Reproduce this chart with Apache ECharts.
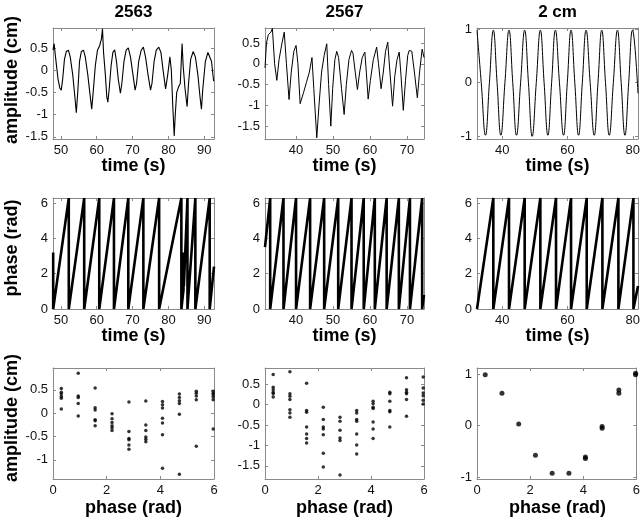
<!DOCTYPE html>
<html><head><meta charset="utf-8">
<script src="https://cdn.jsdelivr.net/npm/echarts@6/dist/echarts.min.js"></script>
<style>html,body{margin:0;padding:0;background:#fff}#c{width:643px;height:524px}</style>
</head><body><div id="c"></div><script>
// ---------- titles / labels ----------
const colTitles = ['2563', '2567', '2 cm'];
const rowYLabels = ['amplitude (cm)', 'phase (rad)', 'amplitude (cm)'];
const rowXLabels = ['time (s)', 'time (s)', 'phase (rad)'];

// ---------- tick labels ----------
const timeTicks1 = [50, 60, 70, 80, 90];
const timeTicks2 = [40, 50, 60, 70];
const timeTicks3 = [40, 60, 80];
const phaseTicks = [0, 2, 4, 6];
const ampTicks1 = [-1.5, -1, -0.5, 0, 0.5];
const ampTicks2 = [-1.5, -1, -0.5, 0, 0.5];
const ampTicks3 = [-1, 0, 1];
const scatTicks1 = [-1, -0.5, 0, 0.5];
const scatTicks2 = [-1.5, -1, -0.5, 0, 0.5];
const scatTicks3 = [-1, 0, 1];

// ---------- row 1: amplitude vs time [t (s), amplitude (cm)] ----------
const amp2563 = [
 [47.8,0.45],[48.1,0.6],[48.5,0.3],[49.2,-0.2],[49.7,-0.4],[50.1,-0.45],[50.5,-0.2],[51.0,0.25],[51.5,0.42],[52.1,0.45],
 [52.6,0.3],[53.3,-0.1],[53.9,-0.6],[54.3,-0.96],[54.7,-0.5],[55.2,0.2],[55.7,0.42],[56.3,0.45],[56.8,0.3],[57.5,-0.1],
 [58.2,-0.6],[58.6,-0.88],[59.0,-0.5],[59.6,0.1],[60.2,0.45],[60.8,0.55],[61.3,0.7],[61.6,0.93],[61.9,0.4],[62.4,-0.1],
 [62.8,-0.6],[63.1,-0.72],[63.5,-0.4],[64.0,0.1],[64.5,0.4],[65.0,0.46],[65.5,0.2],[66.0,-0.2],[66.6,-0.52],[67.0,-0.3],
 [67.6,0.2],[68.2,0.45],[68.8,0.5],[69.4,0.3],[70.1,-0.1],[70.7,-0.45],[71.1,-0.3],[71.7,0.2],[72.4,0.45],[73.0,0.52],
 [73.6,0.3],[74.3,-0.1],[75.0,-0.45],[75.4,-0.3],[76.0,0.2],[76.6,0.45],[77.3,0.52],[77.9,0.4],[78.5,0.0],[79.2,-0.42],
 [79.8,-0.1],[80.4,0.3],[80.8,0.0],[81.2,-0.8],[81.6,-1.48],[81.9,-1.0],[82.3,-0.5],[82.8,-0.38],[83.3,-0.3],[83.8,0.6],
 [84.1,0.1],[84.6,-0.4],[85.2,-0.82],[85.6,-0.3],[86.2,0.25],[86.9,0.42],[87.5,0.3],[88.2,-0.1],[88.8,-0.6],[89.2,-0.88],
 [89.6,-0.4],[90.3,0.2],[91.0,0.4],[91.5,0.42],[92.0,0.2],[92.6,-0.25]
];
const amp2567 = [
 [31.6,-0.1],[32.0,0.5],[32.5,0.7],[33.2,0.76],[33.6,0.85],[34.2,0.0],[34.8,-0.4],[35.4,0.1],[36.2,0.5],[36.8,0.76],
 [37.4,0.0],[38.1,-0.86],[38.7,-0.2],[39.4,0.3],[40.0,0.44],[40.5,0.0],[41.1,-0.96],[42.0,-0.7],[42.8,-0.45],[43.6,-0.2],
 [44.3,0.15],[44.8,-0.6],[45.6,-1.78],[46.2,-1.0],[46.9,-0.2],[47.6,0.2],[48.3,0.48],[48.8,-0.5],[49.4,-1.5],[49.9,-0.6],
 [50.5,0.1],[51.0,0.3],[51.5,0.15],[52.3,-0.6],[53.0,-1.22],[53.6,-0.5],[54.3,0.1],[55.0,0.32],[55.4,0.25],[56.0,-0.2],
 [56.6,-0.62],[57.2,-0.2],[57.9,0.15],[58.6,0.28],[59.0,-0.2],[59.5,-0.85],[60.1,-0.4],[60.9,0.1],[61.8,0.4],[62.3,0.0],
 [63.0,-0.6],[63.6,-0.2],[64.2,0.3],[64.8,0.52],[65.3,-0.1],[66.1,-1.02],[66.7,-0.3],[67.3,0.1],[67.9,0.28],[68.4,-0.3],
 [69.0,-1.12],[69.6,-0.4],[70.2,0.2],[70.6,0.32],[71.3,0.3],[72.0,-0.2],[72.8,-0.82],[73.4,-0.2],[74.1,0.35],[74.6,0.15]
];
const amp2cm = [
 [32.3,0.98],[33.6,0],[34.9,-0.98],[36.1,0],[37.3,0.98],[38.45,0],[39.6,-0.98],[40.85,0],[42.1,0.98],[43.25,0],
 [44.4,-0.98],[45.65,0],[46.9,0.98],[48.05,0],[49.2,-1.0],[50.45,0],[51.7,0.98],[52.85,0],[54.0,-0.98],[55.15,0],
 [56.3,0.98],[57.55,0],[58.8,-0.98],[59.95,0],[61.1,0.98],[62.25,0],[63.4,-0.98],[64.55,0],[65.7,0.98],[66.95,0],
 [68.2,-0.98],[69.35,0],[70.5,0.98],[71.65,0],[72.8,-0.98],[74.05,0],[75.3,0.98],[76.45,0],[77.6,-0.98],[78.75,0],
 [79.9,0.98],[81.6,-0.2]
];

// ---------- row 2: phase vs time [t (s), phase (rad)] ----------
const phase2563 = [
 [47.85,3.2],[47.85,0],[52.2,6.28],[52.2,0],[56.5,6.28],[56.5,0],[60.7,6.28],[60.7,0],[64.8,6.28],[64.8,0],
 [68.8,6.28],[68.8,0],[73.0,6.28],[73.0,0],[77.4,6.28],[77.4,0],[83.6,6.28],[83.6,0],[84.2,1.1],[84.2,3.2],
 [84.3,1.3],[85.3,6.28],[85.3,0],[87.5,6.28],[87.5,0],[91.5,6.28],[91.5,0],[92.7,2.4]
];
const phase2567 = [
 [31.6,3.5],[33.0,6.28],[33.0,0],[36.6,6.28],[36.6,0],[40.0,6.28],[40.0,0],[43.8,6.28],[43.8,0],[47.6,6.28],
 [47.6,0],[51.4,6.28],[51.4,0],[55.0,6.28],[55.0,0],[58.3,6.28],[58.3,0],[61.3,6.28],[61.3,0],[64.5,6.28],
 [64.5,0],[67.8,6.28],[67.8,0],[70.8,6.28],[70.8,0],[74.1,6.28],[74.1,0],[74.6,0.8]
];
const phase2cm = [
 [32.3,0],[37.3,6.28],[37.3,0],[42.1,6.28],[42.1,0],[46.9,6.28],[46.9,0],[51.7,6.28],[51.7,0],[56.5,6.28],
 [56.5,0],[61.1,6.28],[61.1,0],[65.9,6.28],[65.9,0],[70.7,6.28],[70.7,0],[75.6,6.28],[75.6,0],[80.2,6.28],
 [80.2,0],[81.6,1.3]
];

// ---------- row 3: amplitude vs phase bin ----------
const phaseBins = [0.31, 0.94, 1.57, 2.2, 2.83, 3.46, 4.08, 4.71, 5.34, 5.97];
const scat2563 = [
 [0.53,0.45,0.41,0.36,0.32,0.09],
 [0.86,0.37,0.34,0.21,-0.06],
 [0.54,0.12,0.07,-0.14,-0.16,-0.27],
 [-0.01,-0.12,-0.2,-0.27,-0.31,-0.37],
 [0.24,-0.39,-0.54,-0.57,-0.68,-0.77],
 [0.26,-0.25,-0.37,-0.51,-0.56,-0.61],
 [0.25,0.18,0.11,-0.11,-0.21,-0.46,-1.18],
 [0.41,0.34,0.27,0.21,-0.02,-1.31],
 [0.47,0.43,0.37,0.29,-0.71],
 [0.47,0.43,0.39,0.35,0.29,-0.34]
];
const scat2567 = [
 [0.73,0.42,0.36,0.3,0.26,0.18],
 [0.8,0.26,0.2,0.12,-0.13,-0.21,-0.31],
 [0.52,-0.15,-0.19,-0.55,-0.72,-0.83,-0.94],
 [-0.07,-0.37,-0.55,-0.6,-0.74,-1.19,-1.53],
 [-0.31,-0.41,-0.63,-0.82,-0.88,-1.72],
 [-0.15,-0.21,-0.37,-0.41,-0.72,-0.99,-1.21],
 [0.08,0.02,-0.07,-0.1,-0.43,-0.6,-0.83],
 [0.3,0.26,0.08,-0.15,-0.18,-0.55],
 [0.65,0.36,0.3,0.26,0.12,-0.29],
 [0.67,0.4,0.28,0.21,0.1,0.01]
];
const scat2cm = [
 [0.99],[0.63],[0.03],[-0.58],[-0.93],[-0.93],[-0.61,-0.64],[-0.02,-0.05],[0.69,0.63],[1.02,0.99]
];

// ---------- layout ----------
const colLeft = [53, 265, 477], colWidth = [161, 159, 161];
const rowTop = [28, 198, 368], rowH = 111;
const FONT = '"Liberation Sans", Arial, sans-serif';

function scatterPts(bins, vals) {
  const out = [];
  vals.forEach((arr, i) => arr.forEach(v => out.push([bins[i], v])));
  return out;
}

const panels = [
 {r:0,c:0,x:[47.8,92.7],xt:timeTicks1,y:[-1.55,0.95],yt:ampTicks1,kind:'line',w:1.1,data:amp2563},
 {r:0,c:1,x:[31.6,74.6],xt:timeTicks2,y:[-1.81,0.86],yt:ampTicks2,kind:'line',w:1.0,data:amp2567},
 {r:0,c:2,x:[32.3,81.6],xt:timeTicks3,y:[-1.05,1.02],yt:ampTicks3,kind:'line',w:1.0,data:amp2cm,smooth:true},
 {r:1,c:0,x:[47.8,92.7],xt:timeTicks1,y:[0,6.2832],yt:phaseTicks,kind:'line',w:2.6,data:phase2563},
 {r:1,c:1,x:[31.6,74.6],xt:timeTicks2,y:[0,6.2832],yt:phaseTicks,kind:'line',w:2.6,data:phase2567},
 {r:1,c:2,x:[32.3,81.6],xt:timeTicks3,y:[0,6.2832],yt:phaseTicks,kind:'line',w:2.6,data:phase2cm},
 {r:2,c:0,x:[0,6],xt:phaseTicks,y:[-1.41,0.97],yt:scatTicks1,kind:'scatter',data:scatterPts(phaseBins,scat2563)},
 {r:2,c:1,x:[0,6],xt:phaseTicks,y:[-1.82,0.89],yt:scatTicks2,kind:'scatter',data:scatterPts(phaseBins,scat2567)},
 {r:2,c:2,x:[0,6],xt:phaseTicks,y:[-1.04,1.12],yt:scatTicks3,kind:'scatter',data:scatterPts(phaseBins,scat2cm),big:true}
];

const grid = [], xAxis = [], yAxis = [], series = [];
const frame = '#8a8a8a';
panels.forEach((p, i) => {
  grid.push({left: colLeft[p.c], top: rowTop[p.r], width: colWidth[p.c], height: rowH});
  const base = {type:'value', gridIndex:i, splitLine:{show:false},
    axisLine:{show:true, onZero:false, lineStyle:{color:frame, width:1}},
    axisTick:{show:true, inside:true, length:3, lineStyle:{color:frame}}};
  xAxis.push(Object.assign({}, base, {position:'bottom', min:p.x[0], max:p.x[1],
    axisTick:Object.assign({}, base.axisTick, {customValues:p.xt}),
    axisLabel:{customValues:p.xt, margin:5, color:'#111', fontSize:13, fontFamily:FONT, formatter:v=>String(v)}}));
  xAxis.push(Object.assign({}, base, {position:'top', min:p.x[0], max:p.x[1],
    axisTick:Object.assign({}, base.axisTick, {customValues:p.xt}), axisLabel:{show:false}}));
  yAxis.push(Object.assign({}, base, {position:'left', min:p.y[0], max:p.y[1],
    axisTick:Object.assign({}, base.axisTick, {customValues:p.yt}),
    axisLabel:{customValues:p.yt, margin:5, color:'#111', fontSize:13, fontFamily:FONT, formatter:v=>String(v)}}));
  yAxis.push(Object.assign({}, base, {position:'right', min:p.y[0], max:p.y[1],
    axisTick:Object.assign({}, base.axisTick, {customValues:p.yt}), axisLabel:{show:false}}));
  if (p.kind === 'line') {
    series.push({type:'line', xAxisIndex:2*i, yAxisIndex:2*i, data:p.data, showSymbol:false, symbol:'none',
      smooth:p.smooth ? 0.45 : false, clip:true, animation:false,
      lineStyle:{color:'#000', width:p.w}});
  } else {
    series.push({type:'scatter', xAxisIndex:2*i, yAxisIndex:2*i, data:p.data, symbol:'circle',
      symbolSize:p.big ? 5 : 3.5, clip:false, animation:false, itemStyle:{color:'#000'}});
  }
});

const graphic = [];
const colCenter = colLeft.map((l, i) => l + colWidth[i] / 2);
colTitles.forEach((t, i) => graphic.push({type:'text', x:colCenter[i], y:12,
  style:{text:t, font:'bold 17px ' + FONT, fill:'#000', textAlign:'center', textVerticalAlign:'middle'}}));
const xLabY = [166, 336, 508];
rowXLabels.forEach((t, r) => colCenter.forEach(cx => graphic.push({type:'text', x:cx, y:xLabY[r],
  style:{text:t, font:'bold 18px ' + FONT, fill:'#000', textAlign:'center', textVerticalAlign:'middle'}})));
const yLabY = [80, 248, 418];
rowYLabels.forEach((t, r) => graphic.push({type:'text', x:12, y:yLabY[r], rotation:Math.PI/2,
  style:{text:t, font:'bold 18px ' + FONT, fill:'#000', textAlign:'center', textVerticalAlign:'middle'}}));

const chart = echarts.init(document.getElementById('c'), null, {renderer:'canvas'});
chart.setOption({animation:false, backgroundColor:'#fff', grid, xAxis, yAxis, series, graphic});
</script></body></html>
